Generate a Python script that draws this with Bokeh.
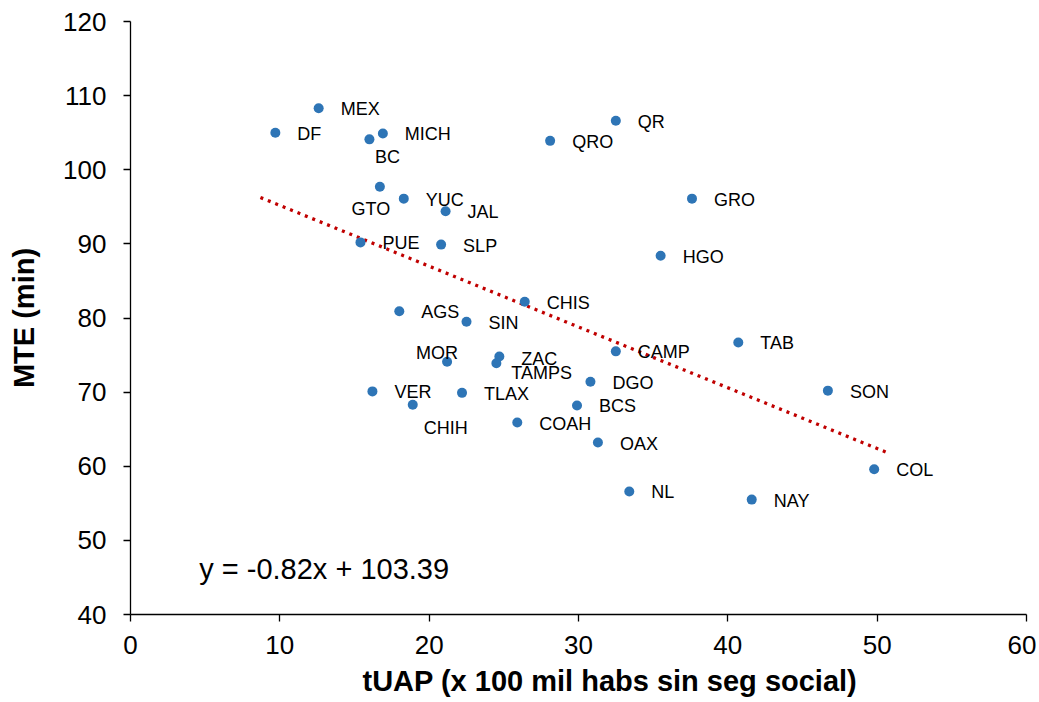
from bokeh.plotting import figure
from bokeh.models import Range1d, FixedTicker, ColumnDataSource, Title
from bokeh.core.properties import value
from bokeh.embed import file_html
from bokeh.resources import INLINE

# ---------------- data ----------------
states = ["DF", "MEX", "MICH", "BC", "QR", "QRO", "GTO", "YUC", "JAL", "GRO",
          "PUE", "SLP", "HGO", "CHIS", "AGS", "SIN", "CAMP", "TAB", "ZAC", "TAMPS",
          "MOR", "DGO", "SON", "VER", "TLAX", "CHIH", "BCS", "COAH", "OAX", "COL",
          "NL", "NAY"]
tuap = [9.7, 12.6, 16.9, 16.0, 32.5, 28.1, 16.7, 18.3, 21.1, 37.6,
        15.4, 20.8, 35.5, 26.4, 18.0, 22.5, 32.5, 40.7, 24.7, 24.5,
        21.2, 30.8, 46.7, 16.2, 22.2, 18.9, 29.9, 25.9, 31.3, 49.8,
        33.4, 41.6]
mte = [105.0, 108.3, 104.9, 104.1, 106.6, 103.9, 97.7, 96.1, 94.4, 96.1,
       90.2, 89.9, 88.4, 82.2, 80.9, 79.5, 75.5, 76.7, 74.8, 73.9,
       74.1, 71.4, 70.2, 70.1, 69.9, 68.3, 68.2, 65.9, 63.2, 59.6,
       56.6, 55.5]
slope = -0.82
intercept = 103.39
equation_text = "y = -0.82x + 103.39"
x_ticks = [0, 10, 20, 30, 40, 50, 60]
y_ticks = [40, 50, 60, 70, 80, 90, 100, 110, 120]
x_label = "tUAP (x 100 mil habs sin seg social)"
y_label = "MTE (min)"

# ---------------- label placement (screen px) ----------------
DEFAULT_PLACE = ("left", 22, 1)
SPECIAL_PLACE = {
    "BC": ("center", 18, 18),
    "GTO": ("center", -9, 22),
    "MOR": ("center", -10, -9),
    "TAMPS": ("left", 15, 10),
    "CHIH": ("left", 11, 23),
    "ZAC": ("left", 22, 2),
}
aligns, xoffs, yoffs = [], [], []
for s in states:
    a, dx, dy = SPECIAL_PLACE.get(s, DEFAULT_PLACE)
    aligns.append(a)
    xoffs.append(dx)
    yoffs.append(dy)

FONT = "Liberation Sans"

p = figure(width=1036, height=702, x_range=Range1d(0, 60), y_range=Range1d(40, 120),
           output_backend="svg", toolbar_location=None,
           min_border_left=130, min_border_right=10, min_border_top=21, min_border_bottom=88)
p.outline_line_color = None
p.xgrid.visible = False
p.ygrid.visible = False
p.background_fill_color = "white"
p.border_fill_color = "white"

for ax, ticks in ((p.xaxis[0], x_ticks), (p.yaxis[0], y_ticks)):
    ax.ticker = FixedTicker(ticks=ticks)
    ax.axis_line_color = "black"
    ax.axis_line_width = 1.3
    ax.major_tick_line_color = "black"
    ax.major_tick_line_width = 1.3
    ax.major_tick_in = 0
    ax.major_tick_out = 7
    ax.minor_tick_line_color = None
    ax.major_label_text_font = FONT
    ax.major_label_text_font_size = "26px"
    ax.major_label_text_color = "black"
    ax.axis_label_text_font = FONT
    ax.axis_label_text_font_size = "29px"
    ax.axis_label_text_font_style = "bold"
    ax.axis_label_text_color = "black"

p.yaxis.axis_label = y_label
p.xaxis.major_label_standoff = 14
p.yaxis.major_label_standoff = 17
p.yaxis.axis_label_standoff = 20

# x-axis title, placed slightly right of the frame centre as in the original
p.add_layout(Title(text=x_label, align="left", offset=232, standoff=12,
                   text_font=FONT, text_font_size="29px", text_font_style="bold",
                   text_color="black"), "below")

# trend line over data range (+/-1 forecast)
tx = [min(tuap) - 1, max(tuap) + 1]
ty = [slope * v + intercept for v in tx]
p.line(tx, ty, line_color="#C00000", line_width=3.3, line_dash="3 5")

src = ColumnDataSource(dict(x=tuap, y=mte, name=states, align=aligns, xo=xoffs, yo=yoffs))
p.scatter("x", "y", source=src, size=10, fill_color="#2E75B6", line_color=None)
p.text("x", "y", text="name", source=src, text_align="align", text_baseline="middle",
       x_offset="xo", y_offset="yo", text_font=value(FONT), text_font_size="18px",
       text_color="black")

p.text(x=[4.6], y=[46.2], text=[equation_text], text_align="left", text_baseline="middle",
       text_font=value(FONT), text_font_size="29px", text_color="black")

open("out.html", "w").write(file_html(p, INLINE))
